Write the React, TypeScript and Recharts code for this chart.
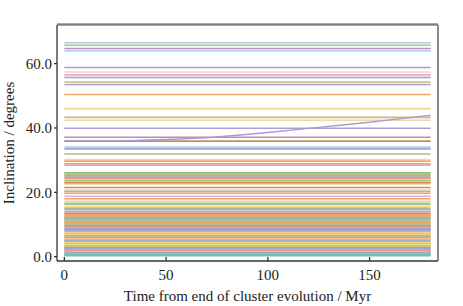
import { Line, LineChart, XAxis, YAxis, Label } from "recharts";

// time range of the integration (Myr)
const timeRange = [0, 180];

// inclination of each orbit (degrees), constant over the run
const inclinations = [
    66.5, 65.7, 64.7, 64.0, 58.8, 57.4, 56.5, 55.7, 54.3, 53.5,
    50.4, 46.1, 45.8, 43.3, 42.4, 39.9, 37.1, 35.9, 34.1, 33.5,
    31.9, 30.2, 29.7, 28.9, 28.4, 26.1, 25.8, 25.5, 25.1, 24.7,
    24.3, 23.7, 23.1, 22.7, 21.5, 20.9, 20.3, 19.7, 18.8, 18.0,
    17.2, 16.6, 16.3, 15.7, 15.1, 14.7, 14.0, 13.5, 13.3, 13.0,
    12.7, 12.4, 12.1, 11.8, 11.5, 11.2, 10.9, 10.6, 10.3, 10.0,
    9.7, 9.4, 9.1, 8.8, 8.5, 8.2, 7.9, 7.5, 7.2, 6.9,
    6.6, 6.3, 6.0, 5.7, 5.4, 5.1, 4.8, 4.5, 4.2, 3.9,
    3.6, 3.3, 3.0, 2.7, 2.4, 2.1, 1.8, 1.5, 1.2, 0.9,
    0.6, 0.3,
];

const lineColorKeys = [
    "lightblue", "olive", "magenta", "lightblue", "blue", "peach", "pink", "blue", "olive", "purple",
    "orange", "yellow", "yellow", "olive", "peach", "purple", "magenta", "brown", "lightblue", "purple",
    "green", "peach", "orange", "salmon", "salmon", "teal", "orange", "olive", "gray", "blue",
    "orange", "olive", "brown", "olive", "red", "yellow", "gray", "orange", "pink", "orange",
    "peach", "olive", "green", "yellow", "green", "gray", "purple", "orange", "brown", "orange",
    "orange", "salmon", "gray", "teal", "salmon", "olive", "gray", "orange", "salmon", "olive",
    "teal", "brown", "pink", "purple", "purple", "purple", "purple", "yellow", "olive", "yellow",
    "salmon", "green", "orange", "orange", "peach", "blue", "gray", "olive", "yellow", "olive",
    "yellow", "orange", "olive", "brown", "blue", "gray", "salmon", "pink", "blue", "green",
    "teal", "teal",
];

// the one orbit whose inclination evolves
const driftTimes = [0, 25, 50, 75, 100, 125, 150, 180];
const driftInclination = [36.0, 36.0, 36.4, 37.2, 38.6, 40.2, 41.8, 44.0];

const xTicks = [0, 50, 100, 150];
const xMinorTicks = [0, 10, 20, 30, 40, 50, 60, 70, 80, 90, 100, 110, 120, 130, 140, 150, 160, 170, 180];
const yTicks = [0, 20, 40, 60];

const palette: Record<string, string> = {
    lightblue: "#a9cbe3",
    blue: "#93a6d6",
    olive: "#bcc27a",
    magenta: "#c08ac6",
    purple: "#ad9fd6",
    peach: "#fbd3a8",
    pink: "#e5aacd",
    orange: "#eea66c",
    yellow: "#fbe28e",
    brown: "#d18a52",
    green: "#9cc49a",
    salmon: "#f49b83",
    teal: "#77bfa6",
    gray: "#b0b0b0",
    red: "#ef7a5e",
};

const FONT = "'Liberation Serif', 'DejaVu Serif', serif";
const xDomain = [-3.6, 183.6];
const yDomain = [-1.34, 72];

const App = () => {

    const drift = driftTimes.map((t, i) => ({ t, v: driftInclination[i] }));

    return (
        <div style={{ position: "absolute", left: 0, top: 0 }}>
            <LineChart
                width={463}
                height={306}
                margin={{ top: 23, right: 24, bottom: 0, left: 0 }}
                style={{ fontFamily: FONT }}
            >
                <XAxis
                    dataKey="t"
                    type="number"
                    domain={xDomain}
                    ticks={xTicks}
                    allowDataOverflow
                    height={45}
                    stroke="#333"
                    strokeWidth={1.3}
                    tickSize={-4}
                    tickMargin={12}
                    tick={{ fill: "#222", fontSize: 15, fontFamily: FONT }}
                >
                    <Label
                        value="Time from end of cluster evolution / Myr"
                        position="insideBottom"
                        offset={5}
                        fill="#222"
                        fontSize={15}
                        fontFamily={FONT}
                    />
                </XAxis>
                <XAxis
                    xAxisId="top"
                    orientation="top"
                    type="number"
                    domain={xDomain}
                    ticks={xMinorTicks}
                    allowDataOverflow
                    height={1}
                    stroke="#555"
                    strokeWidth={1.2}
                    tickSize={-3}
                    tick={() => null}
                />
                <XAxis
                    xAxisId="topMajor"
                    orientation="top"
                    type="number"
                    domain={xDomain}
                    ticks={xTicks}
                    allowDataOverflow
                    height={1}
                    stroke="#555"
                    strokeWidth={1.2}
                    tickSize={-6}
                    tick={() => null}
                />
                <YAxis
                    type="number"
                    domain={yDomain}
                    ticks={yTicks}
                    allowDataOverflow
                    width={57}
                    stroke="#333"
                    strokeWidth={1.3}
                    tickSize={3}
                    tickMargin={2}
                    tickFormatter={(v: number) => v.toFixed(1)}
                    tick={{ fill: "#222", fontSize: 15, fontFamily: FONT }}
                >
                    <Label
                        content={() => (
                            <text
                                x={9}
                                y={143}
                                transform="rotate(-90 9 143)"
                                textAnchor="middle"
                                dominantBaseline="central"
                                fill="#222"
                                fontSize={15}
                                fontFamily={FONT}
                            >
                                Inclination / degrees
                            </text>
                        )}
                    />
                </YAxis>
                <YAxis
                    yAxisId="right"
                    orientation="right"
                    type="number"
                    domain={yDomain}
                    width={1}
                    stroke="#666"
                    strokeWidth={1.5}
                    tick={() => null}
                    tickLine={false}
                />
                {inclinations.map((v, i) => (
                    <Line
                        key={i}
                        data={timeRange.map(t => ({ t, v }))}
                        dataKey="v"
                        stroke={palette[lineColorKeys[i]]}
                        strokeWidth={1.6}
                        dot={false}
                        activeDot={false}
                        isAnimationActive={false}
                    />
                ))}
                <Line
                    data={drift}
                    dataKey="v"
                    type="monotone"
                    stroke="#a99bd0"
                    strokeWidth={1.4}
                    dot={false}
                    activeDot={false}
                    isAnimationActive={false}
                />
            </LineChart>
        </div>
    )
}

export default App
